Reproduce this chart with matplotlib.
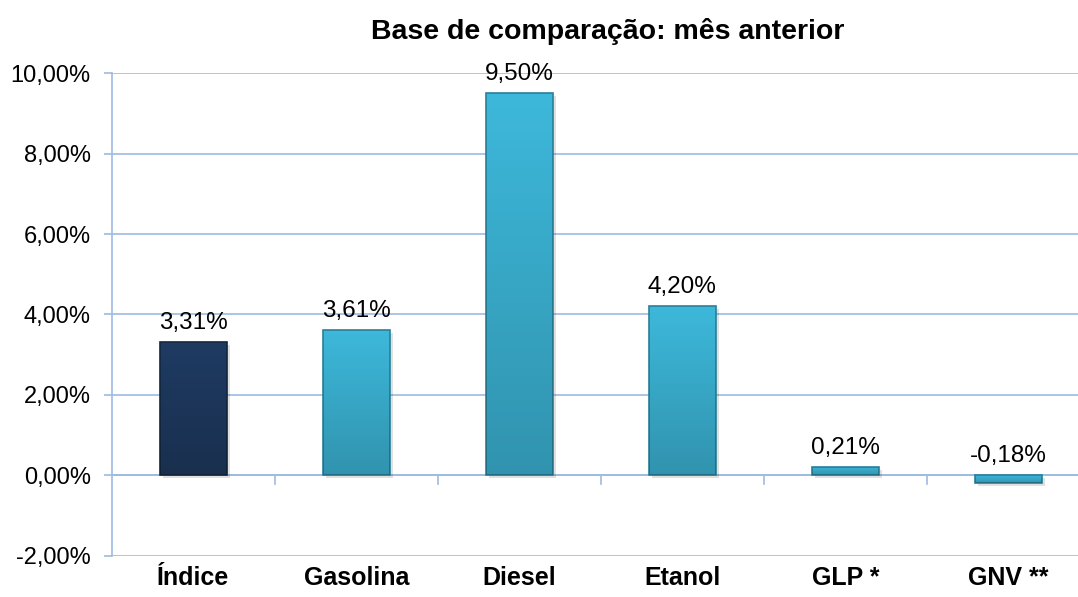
import matplotlib.pyplot as plt
import numpy as np
from matplotlib.ticker import FuncFormatter

plt.rcParams['font.family'] = ['Liberation Sans', 'DejaVu Sans']

# Data
categories = ["Índice", "Gasolina", "Diesel", "Etanol", "GLP *", "GNV **"]
values = [3.31, 3.61, 9.50, 4.20, 0.21, -0.18]
bar_colors = ["#1f3b62", "#3db8da", "#3db8da", "#3db8da", "#3db8da", "#3db8da"]
edge_colors = ["#132840", "#2a8099", "#2a8099", "#2a8099", "#2a8099", "#2a8099"]

grid_color = "#9dbbe0"

fig = plt.figure(figsize=(10.78, 5.97), dpi=100)
# plot area runs slightly past the right edge of the image, as in the original
ax = fig.add_axes([0.1035, 0.0687, 0.9077, 0.809])

x = np.arange(len(categories))
width = 0.41

# Shadow
ax.bar(x + 0.02, values, width, bottom=-0.07, color="#000000", alpha=0.12, zorder=2)
bars = ax.bar(x, values, width, color=bar_colors, edgecolor=edge_colors,
              linewidth=1.2, zorder=3)

# Gradient shading to mimic bevel (lighter top, darker bottom)
for b in bars:
    x0, y0 = b.get_x(), b.get_y()
    w, h = b.get_width(), b.get_height()
    n = 100
    yy = np.linspace(0, 1, n).reshape(-1, 1)
    img = np.zeros((n, 1, 4))
    img[..., 3] = 0.2 * yy
    im = ax.imshow(img, extent=(x0, x0 + w, min(y0, y0 + h), max(y0, y0 + h)),
                   aspect="auto", zorder=4, interpolation="bilinear", origin="upper")
    im.set_clip_path(b)

ax.set_ylim(-2, 10)
ax.set_xlim(-0.5, len(categories) - 0.5)
ax.set_yticks(np.arange(-2, 10.01, 2))
ax.yaxis.set_major_formatter(FuncFormatter(lambda v, p: f"{v:.2f}%".replace(".", ",")))
ax.grid(axis="y", color=grid_color, linewidth=1.2, zorder=0)
ax.axhline(0, color=grid_color, linewidth=1.2, zorder=1)

# Category boundary ticks on zero line
for bnd in np.arange(0.5, len(categories) - 0.5, 1):
    ax.plot([bnd, bnd], [0, -0.2], color=grid_color, linewidth=1.2, zorder=1)

for s in ["top", "right", "bottom"]:
    ax.spines[s].set_visible(False)
ax.spines["left"].set_color(grid_color)
ax.spines["left"].set_linewidth(1.2)
ax.tick_params(axis="y", colors=grid_color, length=6, width=1.2, labelsize=17,
               labelcolor="black", pad=9)

ax.set_xticks(x)
ax.set_xticklabels(categories, fontsize=18, fontweight="bold")
ax.tick_params(axis="x", length=0, pad=7)

for xi, v in zip(x, values):
    ax.text(xi, max(v, 0) + 0.2, f"{v:.2f}%".replace(".", ","), ha="center",
            va="bottom", fontsize=17.5, zorder=5)

fig.text(0.564, 0.948, "Base de comparação: mês anterior", ha="center", va="center",
         fontsize=20.5, fontweight="bold")

fig.savefig("out.png", dpi=100)
